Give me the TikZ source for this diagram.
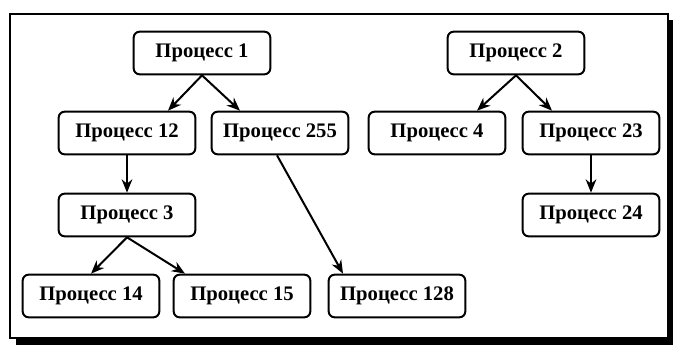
\documentclass[tikz,border=0pt]{standalone}
\usepackage{fontspec}
\setmainfont{Liberation Serif}
\usetikzlibrary{arrows.meta}

\tikzset{
    proc/.style={draw, line width=1.5pt, rounded corners=4.5pt, fill=white,
        minimum width=102.5pt, minimum height=32pt, inner sep=0pt,
        font=\fontsize{15.5}{18}\selectfont\bfseries},
}

\begin{document}
\begin{tikzpicture}[x=0.75pt,y=-0.75pt]
    \useasboundingbox (0,0) rectangle (673,345);
    % frame with shadow
    \begin{scope}
       \clip (0,0) rectangle (673,345);
       \fill[black] (16,20) rectangle (676,345);
       \draw[line width=1.5pt, fill=white] (10,14) rectangle (668,338);
    \end{scope}

    \node[proc] (P1)   at (202, 53) {Процесс 1};
    \node[proc] (P2)   at (516, 53) {Процесс 2};
    \node[proc] (P12)  at (127,133) {Процесс 12};
    \node[proc] (P255) at (280,133) {Процесс 255};
    \node[proc] (P4)   at (437,133) {Процесс 4};
    \node[proc] (P23)  at (591,133) {Процесс 23};
    \node[proc] (P3)   at (127,215) {Процесс 3};
    \node[proc] (P24)  at (591,215) {Процесс 24};
    \node[proc] (P14)  at ( 91,296) {Процесс 14};
    \node[proc] (P15)  at (242,296) {Процесс 15};
    \node[proc] (P128) at (397,296) {Процесс 128};

    \begin{scope}[every path/.style={-{Stealth[length=10pt,width=8pt]}, line width=1.5pt}]
       \draw (P1.south) -- ([xshift=30.75pt]P12.north);
       \draw (P1.south) -- ([xshift=-30pt]P255.north);
       \draw (P2.south) -- ([xshift=30pt]P4.north);
       \draw (P2.south) -- ([xshift=-29.25pt]P23.north);
       \draw (P12.south) -- (P3.north);
       \draw (P23.south) -- (P24.north);
       \draw (P3.south) -- (P14.north);
       \draw (P3.south) -- ([xshift=-42.75pt]P15.north);
       \draw ([xshift=-2.25pt]P255.south) -- ([xshift=-40.5pt]P128.north);
    \end{scope}
\end{tikzpicture}
\end{document}
